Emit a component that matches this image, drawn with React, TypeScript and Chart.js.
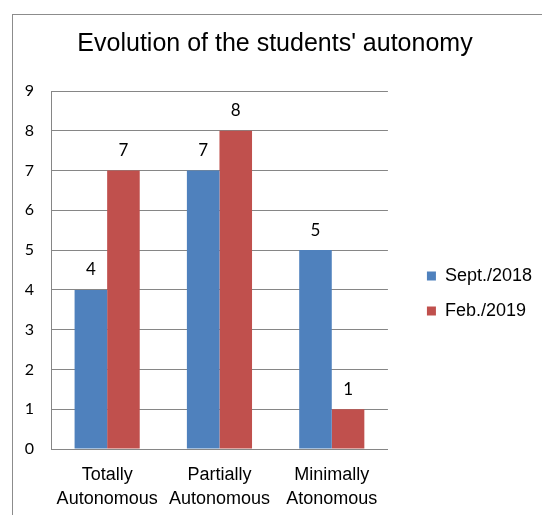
import React, { useEffect, useRef } from "react";
import { Chart, registerables } from "chart.js";

Chart.register(...registerables);

const TITLE = "Evolution of the students' autonomy";
const categories: string[][] = [
  ["Totally", "Autonomous"],
  ["Partially", "Autonomous"],
  ["Minimally", "Atonomous"],
];
const seriesNames = ["Sept./2018", "Feb./2019"];
const sept2018 = [4, 7, 5];
const feb2019 = [7, 8, 1];
const seriesColors = ["#4F81BD", "#C0504D"];
const yTicks = [0, 1, 2, 3, 4, 5, 6, 7, 8, 9];

const borderPlugin = {
  id: "outerBorder",
  beforeDraw(chart: any) {
    const ctx = chart.ctx;
    ctx.save();
    ctx.strokeStyle = "#8c8c8c";
    ctx.lineWidth = 1;
    ctx.strokeRect(12.5, 14.5, 700, 700);
    ctx.restore();
  },
};

const valueLabels = {
  id: "valueLabels",
  afterDatasetsDraw(chart: any) {
    const ctx = chart.ctx;
    ctx.save();
    ctx.font = "17px Lato";
    ctx.fillStyle = "#000";
    ctx.textAlign = "center";
    ctx.textBaseline = "middle";
    chart.data.datasets.forEach((ds: any, i: number) => {
      const meta = chart.getDatasetMeta(i);
      meta.data.forEach((bar: any, j: number) => {
        ctx.fillText(String(ds.data[j]), bar.x, bar.y - 20);
      });
    });
    ctx.restore();
  },
};

export default function App() {
  const ref = useRef<HTMLCanvasElement>(null);
  useEffect(() => {
    document.body.style.margin = "0";
    const chart = new Chart(ref.current!, {
      type: "bar",
      data: {
        labels: categories,
        datasets: [
          { label: seriesNames[0], data: sept2018, backgroundColor: seriesColors[0] },
          { label: seriesNames[1], data: feb2019, backgroundColor: seriesColors[1] },
        ],
      },
      options: {
        animation: false,
        responsive: false,
        events: [],
        layout: { padding: { left: 8, right: 0, top: 0, bottom: 0 } },
        datasets: {
          bar: { categoryPercentage: 0.58, barPercentage: 1, borderWidth: 0 },
        },
        scales: {
          x: {
            grid: { display: false },
            border: { display: true, color: "#868686", width: 1 },
            ticks: {
              color: "#000",
              font: { family: "Liberation Sans", size: 18, lineHeight: 1.28 },
              padding: 7,
              maxRotation: 0,
              autoSkip: false,
            },
            afterFit: (s: any) => { s.height = 66; },
          },
          y: {
            min: 0,
            max: 9,
            grid: { color: "#868686", drawTicks: false },
            border: { display: true, color: "#868686", width: 1 },
            afterBuildTicks: (s: any) => { s.ticks = yTicks.map((v) => ({ value: v })); },
            ticks: {
              color: "#000",
              font: { family: "Lato", size: 16 },
              padding: 17,
            },
            afterFit: (s: any) => { s.width = 43; },
          },
          yR: {
            position: "right",
            display: true,
            grid: { display: false },
            border: { display: false },
            ticks: { display: false },
            afterFit: (s: any) => { s.width = 22; },
          },
        },
        plugins: {
          title: {
            display: true,
            text: TITLE,
            color: "#000",
            font: { family: "Liberation Sans", size: 25, weight: "normal", lineHeight: 1.2 },
            padding: { top: 29, bottom: 32 },
          },
          legend: {
            position: "right",
            align: "start",
            maxWidth: 300,
            title: {
              display: true,
              text: "",
              font: { size: 10, lineHeight: 1.3 },
              padding: { top: 237, bottom: 0 },
            },
            labels: {
              color: "#000",
              font: { family: "Liberation Sans", size: 18 },
              boxWidth: 9,
              boxHeight: 9,
              padding: 17,
            },
          },
          tooltip: { enabled: false },
        },
      },
      plugins: [borderPlugin, valueLabels],
    } as any);
    return () => chart.destroy();
  }, []);
  return <canvas ref={ref} width={542} height={515} />;
}
